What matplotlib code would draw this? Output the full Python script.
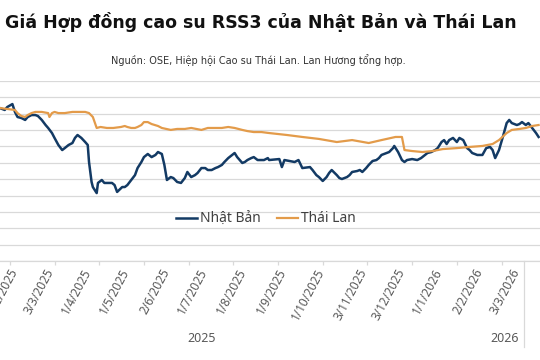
import matplotlib
matplotlib.use("Agg")
import matplotlib.pyplot as plt
import pandas as pd
import numpy as np
from matplotlib.lines import Line2D

# ---------------- data ----------------
jp_dates = ["2025-01-22", "2025-01-26", "2025-01-28", "2025-02-01", "2025-02-03", "2025-02-05",
            "2025-02-08", "2025-02-11", "2025-02-13", "2025-02-16", "2025-02-19", "2025-02-21",
            "2025-02-24", "2025-02-27", "2025-03-01", "2025-03-04", "2025-03-06", "2025-03-09",
            "2025-03-12", "2025-03-14", "2025-03-17", "2025-03-20", "2025-03-22", "2025-03-24",
            "2025-03-27", "2025-03-30", "2025-04-01", "2025-04-02", "2025-04-04", "2025-04-05",
            "2025-04-08", "2025-04-09", "2025-04-12", "2025-04-14", "2025-04-16", "2025-04-20",
            "2025-04-22", "2025-04-24", "2025-04-28", "2025-04-30", "2025-05-02", "2025-05-05",
            "2025-05-08", "2025-05-10", "2025-05-13", "2025-05-15", "2025-05-18", "2025-05-21",
            "2025-05-24", "2025-05-26", "2025-05-29", "2025-05-31", "2025-06-02", "2025-06-05",
            "2025-06-07", "2025-06-10", "2025-06-13", "2025-06-16", "2025-06-18", "2025-06-21",
            "2025-06-24", "2025-06-26", "2025-06-29", "2025-07-02", "2025-07-04", "2025-07-07",
            "2025-07-10", "2025-07-12", "2025-07-15", "2025-07-17", "2025-07-20", "2025-07-23",
            "2025-07-25", "2025-07-27", "2025-07-31", "2025-08-02", "2025-08-04", "2025-08-07",
            "2025-08-09", "2025-08-12", "2025-08-15", "2025-08-17", "2025-08-20", "2025-08-21",
            "2025-08-29", "2025-08-31", "2025-09-02", "2025-09-06", "2025-09-10", "2025-09-13",
            "2025-09-16", "2025-09-22", "2025-09-24", "2025-09-27", "2025-09-29", "2025-10-02",
            "2025-10-05", "2025-10-07", "2025-10-09", "2025-10-13", "2025-10-15", "2025-10-17",
            "2025-10-21", "2025-10-23", "2025-10-25", "2025-10-29", "2025-10-31", "2025-11-02",
            "2025-11-05", "2025-11-07", "2025-11-10", "2025-11-13", "2025-11-15", "2025-11-17",
            "2025-11-21", "2025-11-23", "2025-11-26", "2025-11-27", "2025-11-30", "2025-12-03",
            "2025-12-05", "2025-12-07", "2025-12-11", "2025-12-15", "2025-12-18", "2025-12-21",
            "2025-12-23", "2025-12-26", "2025-12-29", "2025-12-31", "2026-01-03", "2026-01-05",
            "2026-01-07", "2026-01-09", "2026-01-12", "2026-01-15", "2026-01-17", "2026-01-20",
            "2026-01-23", "2026-01-25", "2026-01-27", "2026-01-31", "2026-02-04", "2026-02-07",
            "2026-02-10", "2026-02-12", "2026-02-14", "2026-02-17", "2026-02-20", "2026-02-23",
            "2026-02-25", "2026-02-27", "2026-03-03", "2026-03-05", "2026-03-07", "2026-03-10",
            "2026-03-12", "2026-03-15", "2026-03-18", "2026-03-20"]
jp_values = [213.5, 212.3, 214.1, 215.9, 211.1, 208.0,
             207.4, 206.2, 208.0, 209.2, 209.2, 208.6,
             206.2, 203.1, 201.3, 198.2, 195.2, 190.9,
             187.8, 189.0, 190.9, 192.1, 195.2, 197.0,
             195.2, 192.7, 190.9, 180.5, 168.3, 165.2,
             161.5, 167.7, 169.5, 167.7, 167.7, 167.7,
             166.4, 162.2, 165.2, 165.2, 166.4, 169.5,
             172.5, 176.8, 180.5, 183.5, 185.4, 183.5,
             184.8, 186.6, 185.4, 178.7, 169.5, 171.3,
             170.7, 168.3, 167.7, 170.7, 174.4, 171.3,
             172.5, 173.8, 176.8, 176.8, 175.6, 175.6,
             176.8, 177.4, 178.7, 180.5, 182.9, 184.8,
             186.0, 183.5, 179.9, 180.5, 181.7, 182.9,
             183.5, 181.7, 181.7, 181.7, 182.9, 181.7,
             182.3, 177.4, 181.7, 181.1, 180.5, 181.7,
             176.8, 177.4, 175.6, 172.5, 171.3, 168.9,
             171.3, 173.8, 175.6, 172.5, 170.7, 170.1,
             171.3, 172.5, 174.4, 175.0, 175.6, 174.4,
             176.8, 178.7, 181.1, 181.7, 182.9, 184.8,
             186.0, 186.6, 189.0, 190.3, 186.6, 181.7,
             180.5, 181.7, 182.3, 181.7, 182.9, 184.8,
             186.0, 186.6, 187.8, 189.0, 192.7, 193.9,
             191.5, 193.9, 195.2, 192.7, 195.2, 193.9,
             189.0, 187.8, 186.0, 184.8, 184.8, 189.0,
             189.7, 187.8, 182.9, 187.8, 195.8, 204.3,
             206.2, 204.3, 203.1, 203.7, 204.9, 203.1,
             204.3, 201.3, 198.2, 195.8]

th_dates = ["2025-01-22", "2025-02-03", "2025-02-05", "2025-02-08", "2025-02-11", "2025-02-13",
            "2025-02-16", "2025-02-19", "2025-02-24", "2025-03-01", "2025-03-02", "2025-03-04",
            "2025-03-06", "2025-03-09", "2025-03-14", "2025-03-20", "2025-03-24", "2025-03-30",
            "2025-04-02", "2025-04-05", "2025-04-08", "2025-04-11", "2025-04-16", "2025-04-21",
            "2025-04-27", "2025-04-30", "2025-05-02", "2025-05-05", "2025-05-08", "2025-05-10",
            "2025-05-13", "2025-05-15", "2025-05-18", "2025-05-21", "2025-05-26", "2025-05-29",
            "2025-06-05", "2025-06-10", "2025-06-16", "2025-06-21", "2025-06-29", "2025-07-04",
            "2025-07-10", "2025-07-15", "2025-07-20", "2025-07-25", "2025-07-31", "2025-08-04",
            "2025-08-09", "2025-08-15", "2025-08-21", "2025-09-04", "2025-09-16", "2025-09-29",
            "2025-10-13", "2025-10-25", "2025-11-07", "2025-11-17", "2025-11-28", "2025-12-03",
            "2025-12-05", "2025-12-11", "2025-12-19", "2025-12-27", "2026-01-04", "2026-01-15",
            "2026-01-25", "2026-02-04", "2026-02-12", "2026-02-17", "2026-02-23", "2026-02-27",
            "2026-03-05", "2026-03-10", "2026-03-15", "2026-03-20"]
th_values = [213.5, 212.3, 210.4, 208.6, 208.0, 209.2,
             210.4, 211.1, 211.1, 210.4, 208.0, 210.4,
             211.1, 210.4, 210.4, 211.1, 211.1, 211.1,
             210.4, 208.0, 201.3, 201.9, 201.3, 201.3,
             201.9, 202.5, 201.9, 201.3, 201.3, 201.9,
             203.1, 204.9, 204.9, 203.7, 202.5, 201.3,
             200.1, 200.7, 200.7, 201.3, 200.1, 201.3,
             201.3, 201.3, 201.9, 201.3, 200.1, 199.4,
             198.8, 198.8, 198.2, 197.0, 195.8, 194.6,
             192.7, 193.9, 192.1, 193.9, 195.8, 195.8,
             187.8, 187.2, 186.6, 187.2, 188.4, 189.0,
             189.7, 190.3, 191.5, 193.9, 198.2, 200.1,
             200.7, 201.3, 202.5, 203.1]

series_names = ["Nhật Bản", "Thái Lan"]
label_dates = ["2025-02-03", "2025-03-03", "2025-04-01", "2025-05-01", "2025-06-02", "2025-07-01",
               "2025-08-01", "2025-09-01", "2025-10-01", "2025-11-03", "2025-12-03", "2026-01-01",
               "2026-02-02", "2026-03-03"]
label_texts = ["3/2/2025", "3/3/2025", "1/4/2025", "1/5/2025", "2/6/2025", "1/7/2025",
               "1/8/2025", "1/9/2025", "1/10/2025", "3/11/2025", "3/12/2025", "1/1/2026",
               "2/2/2026", "3/3/2026"]
year_labels = ["2025", "2026"]
title = "Giá Hợp đồng cao su RSS3 của Nhật Bản và Thái Lan"
subtitle = "Nguồn: OSE, Hiệp hội Cao su Thái Lan. Lan Hương tổng hợp."

# ---------------- plot ----------------
C_JP = "#133a64"
C_TH = "#e39b4a"
GRID = "#d9d9d9"
TXT = "#595959"

fig = plt.figure(figsize=(5.4, 3.6), dpi=100)
fig.patch.set_facecolor("white")
ax = fig.add_axes([0.0, 0.275, 1.0, 0.5])

jp_x = pd.to_datetime(jp_dates)
th_x = pd.to_datetime(th_dates)
ax.plot(jp_x, jp_values, color=C_JP, lw=1.8, label=series_names[0], zorder=3,
        solid_joinstyle="round")
ax.plot(th_x, th_values, color=C_TH, lw=1.6, label=series_names[1], zorder=4,
        solid_joinstyle="round")

x0 = pd.Timestamp("2025-02-03")
ax.set_xlim(x0 - pd.Timedelta(days=11.7), x0 + pd.Timedelta(days=411.1))
ax.set_ylim(120, 230)
ax.set_yticks(np.arange(120, 231, 10))
ax.yaxis.grid(True, color=GRID, lw=0.9)
ax.set_axisbelow(True)
ax.tick_params(axis="y", left=False, labelleft=False)
for s in ["left", "right", "top"]:
    ax.spines[s].set_visible(False)
ax.spines["bottom"].set_color(GRID)
ax.spines["bottom"].set_linewidth(0.9)

ax.set_xticks(pd.to_datetime(label_dates))
ax.set_xticklabels(label_texts, rotation=62, ha="right", va="center",
                   rotation_mode="anchor", fontsize=8.5, color=TXT,
                   family=["Noto Sans", "DejaVu Sans"])
ax.tick_params(axis="x", length=0, pad=6)
minor = pd.date_range("2025-01-30", periods=12, freq="35D")
ax.set_xticks(minor, minor=True)
ax.tick_params(axis="x", which="minor", length=3, color=GRID, width=0.9)

leg = ax.legend(loc="center", bbox_to_anchor=(266 / 540, (360 - 219) / 360),
                bbox_transform=fig.transFigure, ncol=2, frameon=False,
                handlelength=1.5, handletextpad=0.2, columnspacing=1.2,
                prop={"family": ["Noto Sans", "DejaVu Sans"], "size": 10})
for t in leg.get_texts():
    t.set_color("#404040")

fig.text(5 / 540, 1 - 22 / 360, title, ha="left", va="center", fontsize=12.5,
         fontweight="bold", color="#111111", family=["DejaVu Sans"])
fig.text(258 / 540, 1 - 60 / 360, subtitle, ha="center", va="center", fontsize=7,
         color="#333333", family=["DejaVu Sans"])

fig.text(202 / 540, 1 - 339 / 360, year_labels[0], ha="center", va="center",
         fontsize=9, color=TXT, family=["Noto Sans", "DejaVu Sans"])
fig.text(505 / 540, 1 - 339 / 360, year_labels[1], ha="center", va="center",
         fontsize=9, color=TXT, family=["Noto Sans", "DejaVu Sans"])
fig.add_artist(Line2D([524 / 540, 524 / 540], [(360 - 261) / 360, (360 - 347) / 360],
                      transform=fig.transFigure, color=GRID, lw=0.9))

fig.savefig("out.png", dpi=100, facecolor="white")
